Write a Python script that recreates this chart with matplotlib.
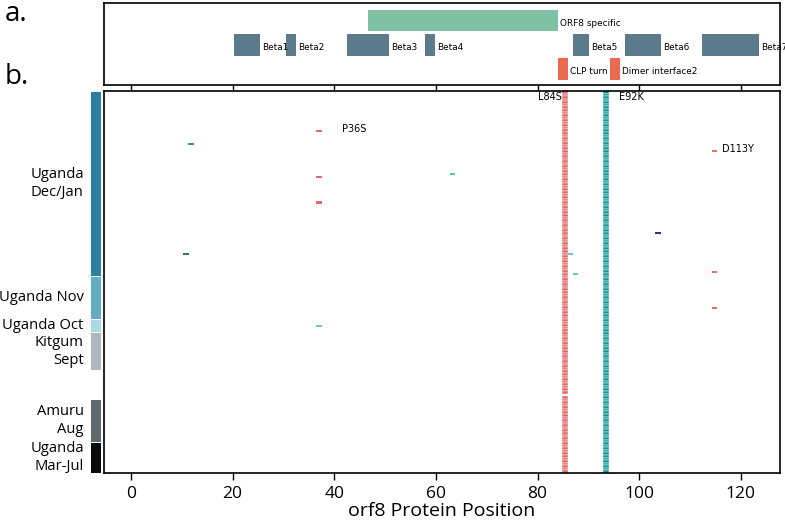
import matplotlib
matplotlib.use('Agg')
import matplotlib.pyplot as plt

# ---------------- data ----------------
# top panel: ORF8 protein features (start, end in residue positions)
feature_names = ['ORF8 specific', 'Beta1', 'Beta2', 'Beta3', 'Beta4', 'Beta5',
                 'Beta6', 'Beta7', 'CLP turn', 'Dimer interface2']
feature_start = [46.6, 20.3, 30.5, 42.5, 57.8, 86.9, 97.2, 112.3, 84.0, 94.2]
feature_end = [84.0, 25.4, 32.5, 50.8, 59.8, 90.1, 104.3, 123.5, 86.0, 96.2]
feature_track = [0, 1, 1, 1, 1, 1, 1, 1, 2, 2]
feature_kind = ['specific', 'beta', 'beta', 'beta', 'beta', 'beta', 'beta', 'beta',
                'site', 'site']

# sample groups (top to bottom)
group_labels = ['Uganda\nDec/Jan', 'Uganda Nov', 'Uganda Oct', 'Kitgum\nSept', '',
                'Amuru\nAug', 'Uganda\nMar-Jul']
group_sizes = [72, 17, 5, 15, 11, 17, 12]
group_colors = ['#2b7f9f', '#63adc3', '#a8dbe5', '#aeb7bb', '#ffffff', '#5f6a6f', '#0a0a0a']

# fixed mutations present in (almost) every sequence (x = position on the axis)
L84S_x = 85.4
L84S_missing_rows = [118]
E92K_x = 93.5

# sporadic mutations: position on the axis, sequence row, colour
mut_x = [37.0, 11.8, 37.0, 63.3, 114.8, 37.0, 103.7, 10.8, 86.5, 87.5, 114.8, 114.8, 37.0]
mut_row = [15, 20, 33, 32, 23, 43, 55, 63, 63, 71, 70, 84, 91]
mut_color = ['#e06a6a', '#2a9d8f', '#e06a6a', '#5cbfc3', '#ea7058', '#e06a6a',
             '#2b3a7a', '#2f7a5c', '#6cc6ca', '#6cc6ca', '#ea7058', '#ea7058', '#6cc6ca']
mut_labels = {0: 'P36S', 4: 'D113Y'}

xticks = [0, 20, 40, 60, 80, 100, 120]

# ---------------- style ----------------
kind_color = {'specific': '#80c1a5', 'beta': '#5b7b8d', 'site': '#ea6b4f'}
red_bar = '#e06a6a'
teal_bar = '#11979a'
lab_font = ['Open Sans', 'DejaVu Sans']

W, H = 785, 520
fig = plt.figure(figsize=(W / 100, H / 100), dpi=100)
xlim = (-5.3, 127.7)

ax_top = fig.add_axes([104 / W, 1 - 85 / H, 676 / W, 82 / H])
ax = fig.add_axes([104 / W, 1 - 473 / H, 676 / W, 382 / H])
ax_cb = fig.add_axes([90 / W, 1 - 473 / H, 11 / W, 382 / H])

# ---- top panel ----
for name, s, e, t, k in zip(feature_names, feature_start, feature_end, feature_track, feature_kind):
    ax_top.barh(t, e - s, left=s, height=0.9, color=kind_color[k], linewidth=0)
    ax_top.text(e + 0.4, t + 0.12, name, fontsize=6.4, ha='left', va='center',
                family='DejaVu Sans', clip_on=False)
ax_top.set_xlim(*xlim)
ax_top.set_ylim(2.67, -0.73)
ax_top.set_yticks([])
ax_top.set_xticks(xticks)
ax_top.tick_params(axis='x', direction='out', length=5, width=1, labelbottom=False)
for sp in ax_top.spines.values():
    sp.set_linewidth(1.2)

# ---- main panel ----
N = sum(group_sizes)
cell_kw = dict(width=1.2, height=1, align='center', edgecolor='white', linewidth=0.3)
for r in range(N):
    if r not in L84S_missing_rows:
        ax.bar(L84S_x, bottom=r, color=red_bar, **cell_kw)
    ax.bar(E92K_x, bottom=r, color=teal_bar, **cell_kw)
for i, (x, r, c) in enumerate(zip(mut_x, mut_row, mut_color)):
    ax.bar(x, bottom=r + 0.1, color=c, width=1.1, height=0.8, linewidth=0)
    if i in mut_labels:
        off = 4.0 if mut_labels[i] == 'P36S' else 1.0
        ax.text(x + 0.5 + off, r - 0.3, mut_labels[i], fontsize=7, ha='left',
                va='center', family='DejaVu Sans')
ax.text(L84S_x - 0.7, 2.3, 'L84S', fontsize=7, ha='right', va='center', family='DejaVu Sans')
ax.text(E92K_x + 2.6, 2.3, 'E92K', fontsize=7, ha='left', va='center', family='DejaVu Sans')

ax.set_xlim(*xlim)
ax.set_ylim(N, 0)
ax.set_yticks([])
ax.set_xticks(xticks)
ax.set_xticklabels([str(t) for t in xticks], fontsize=12.5, family=lab_font)
ax.tick_params(axis='x', direction='out', length=5, width=1, pad=4)
ax.set_xlabel('orf8 Protein Position', fontsize=14, family=lab_font, labelpad=0.5)
for sp in ax.spines.values():
    sp.set_linewidth(1.2)

# ---- group colour bar ----
cum = 0
for lab, n, c in zip(group_labels, group_sizes, group_colors):
    ax_cb.bar(0, n, bottom=cum, width=1, color=c, edgecolor='white', linewidth=0.7)
    if lab:
        ax_cb.annotate(lab, xy=(0, cum + n / 2), xycoords=('axes fraction', 'data'),
                       xytext=(-4.5, 0), textcoords='offset points', ha='right',
                       va='center', fontsize=10.6, family=lab_font, linespacing=1.25)
    cum += n
ax_cb.set_ylim(N, 0)
ax_cb.set_xlim(-0.5, 0.5)
ax_cb.axis('off')

fig.text(5 / W, 1 - 14 / H, 'a.', fontsize=20, family=lab_font, ha='left', va='center')
fig.text(5 / W, 1 - 77 / H, 'b.', fontsize=20, family=lab_font, ha='left', va='center')

fig.savefig('out.png', dpi=100)
